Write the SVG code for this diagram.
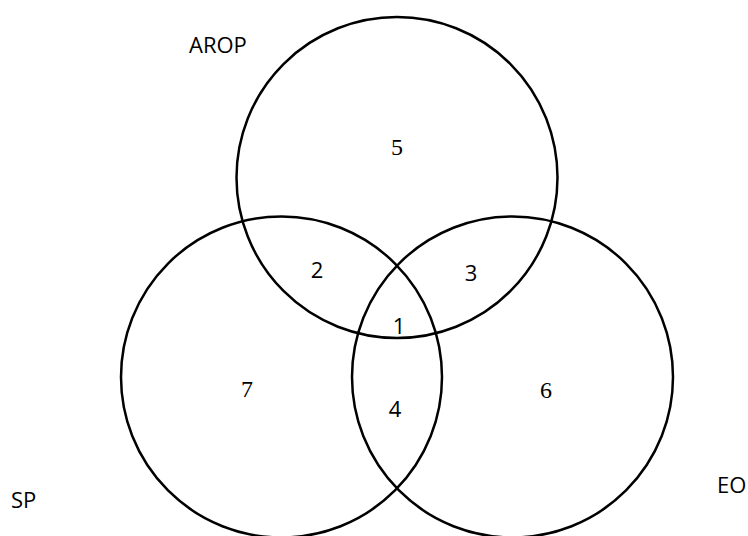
<svg xmlns="http://www.w3.org/2000/svg" width="748" height="536" viewBox="0 0 748 536">
<style>
.c{fill:none;stroke:#000;stroke-width:2.5}
.s{font-family:"Open Sans","Liberation Sans",sans-serif;font-size:22px;fill:#000}
.r{font-family:"Liberation Serif","Times New Roman",serif;font-size:24px;fill:#000}
</style>
<rect width="748" height="536" fill="#fff"/>
<g id="sets">
<g id="arop"><circle class="c" cx="397" cy="177.5" r="160.5"/><text class="s" x="189" y="53">AROP</text></g>
<g id="sp"><circle class="c" cx="281.5" cy="377" r="160.5"/><text class="s" x="11" y="508">SP</text></g>
<g id="eo"><circle class="c" cx="512.5" cy="377" r="160.5"/><text class="s" x="717" y="493">EO</text></g>
</g>
<g id="regions">
<text class="r" x="397" y="155" text-anchor="middle">5</text>
<text class="r" x="247" y="397" text-anchor="middle">7</text>
<text class="r" x="546" y="398" text-anchor="middle">6</text>
<text class="s" x="317" y="278" text-anchor="middle">2</text>
<text class="s" x="471" y="281" text-anchor="middle">3</text>
<text class="s" x="399" y="334" text-anchor="middle">1</text>
<text class="s" x="395" y="417" text-anchor="middle">4</text>
</g>
</svg>
